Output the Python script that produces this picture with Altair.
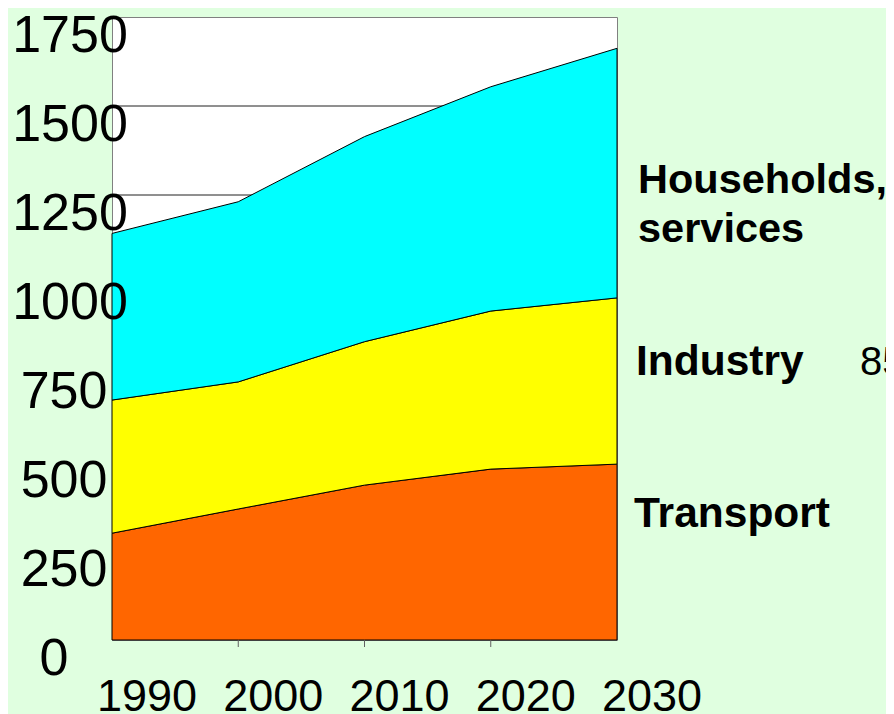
import altair as alt
import pandas as pd

years = [1990, 2000, 2010, 2020, 2030]
transport = [300, 368, 435, 480, 494]
industry = [374, 357, 403, 444, 467]
households = [468, 506, 576, 630, 701]
sectors = ["Transport", "Industry", "Households, services"]
colors = ["#FF6600", "#FFFF00", "#00FFFF"]
y_ticks = [0, 250, 500, 750, 1000, 1250, 1500, 1750]
side_note = "85"

rows = []
for i, (name, vals) in enumerate(zip(sectors, [transport, industry, households])):
    for yr, v in zip(years, vals):
        rows.append({"year": yr, "value": v, "sector": name, "order": i})
df = pd.DataFrame(rows)

FONT = "Liberation Sans"
x_scale = alt.Scale(domain=[1990, 2030], nice=False, zero=False)
y_scale = alt.Scale(domain=[0, 1750], nice=False, zero=True)

grid = alt.Chart(pd.DataFrame({"v": y_ticks[1:-1]})).mark_rule(color="#202020", strokeWidth=1).encode(
    y=alt.Y("v:Q", scale=y_scale, axis=None)
)

areas = alt.Chart(df).mark_area(stroke="black", strokeWidth=1, opacity=1, fillOpacity=1).encode(
    x=alt.X("year:Q", scale=x_scale, axis=None),
    y=alt.Y("value:Q", stack="zero", scale=y_scale, axis=None),
    color=alt.Color("sector:N", scale=alt.Scale(domain=sectors, range=colors), legend=None),
    order=alt.Order("order:Q"),
)

ticks = alt.Chart(pd.DataFrame({"yr": years[1:-1]})).mark_rule(color="#606060", strokeWidth=1).encode(
    x=alt.X("yr:Q", scale=x_scale, axis=None),
    y=alt.value(623),
    y2=alt.value(630),
)


def ylabels(lo, hi, xpos):
    return alt.Chart(pd.DataFrame({"v": y_ticks})).transform_filter(
        f"datum.v >= {lo} && datum.v < {hi}"
    ).mark_text(
        fontSize=52, font=FONT, align="center", baseline="alphabetic", dy=35, color="black"
    ).encode(
        y=alt.Y("v:Q", scale=y_scale, axis=None),
        x=alt.value(xpos),
        text=alt.Text("v:Q", format="d"),
    )


ylab = [ylabels(1000, 10000, -42), ylabels(100, 1000, -48), ylabels(0, 100, -58)]

xlab = alt.Chart(pd.DataFrame({"yr": years})).mark_text(
    fontSize=45, font=FONT, align="center", baseline="alphabetic", dx=35, color="black"
).encode(
    x=alt.X("yr:Q", scale=x_scale, axis=None),
    y=alt.value(694),
    text=alt.Text("yr:Q", format="d"),
)


def note(text, x, y, bold=True, size=42.5):
    return alt.Chart(pd.DataFrame({"t": [text]})).mark_text(
        fontSize=size, font=FONT, fontWeight="bold" if bold else "normal",
        align="left", baseline="alphabetic", color="black", lineBreak="\n", lineHeight=49
    ).encode(text="t:N", x=alt.value(x), y=alt.value(y))


labels = [
    note(sectors[2].replace(" ", "\n"), 526, 176, size=41.5),
    note(sectors[1], 524, 358),
    note(sectors[0], 522, 510),
    note(side_note, 748, 358, bold=False, size=40),
]

chart = alt.layer(grid, areas, ticks, *ylab, xlab, *labels).properties(
    width=505, height=623,
    padding={"left": 104, "top": 9, "right": 269, "bottom": 74},
    autosize=alt.AutoSizeParams(type="none"),
).configure(background="#E0FFE0").configure_view(fill="white", stroke="#808080", strokeWidth=1)

chart.save("out.html", embed_options={"renderer": "svg", "actions": False})
